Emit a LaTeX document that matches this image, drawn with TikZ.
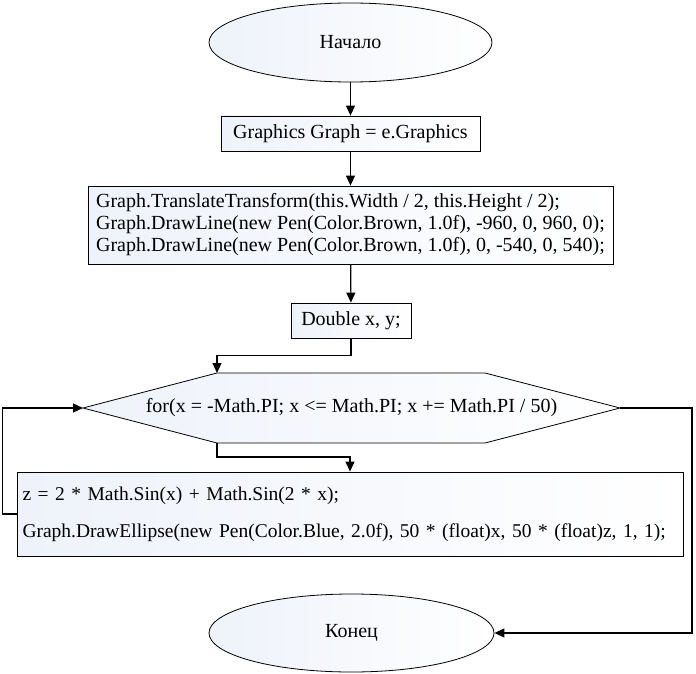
\documentclass[tikz,border=0pt]{standalone}
\usepackage{fontspec}
\setmainfont{Liberation Serif}
\usetikzlibrary{shapes.geometric,arrows.meta}
\definecolor{shadeL}{RGB}{238,242,250}
\begin{document}
\begin{tikzpicture}[x=1pt,y=-1pt,
  every node/.style={font=\fontsize{20}{22}\selectfont},
  boxshade/.style={draw, line width=0.8pt, left color=shadeL, right color=white},
  term/.style={boxshade, ellipse, minimum width=283pt, minimum height=79pt, inner sep=0pt},
  proc/.style={boxshade, rectangle, inner sep=0pt},
  arr/.style={line width=1.2pt, -{Triangle[length=10pt,width=9pt]}},
  ]
\useasboundingbox (0,0) rectangle (696,674);
\node[term] (start) at (350.5,42.5) {Начало};
\node[proc, minimum width=259pt, minimum height=35pt] (g) at (350.5,133.5) {Graphics Graph = e.Graphics};
\node[proc, minimum width=525pt, minimum height=78pt, align=left] (t) at (350.5,225)
  {Graph.TranslateTransform(this.Width / 2, this.Height / 2);\\
   Graph.DrawLine(new Pen(Color.Brown, 1.0f), -960, 0, 960, 0);\\
   Graph.DrawLine(new Pen(Color.Brown, 1.0f), 0, -540, 0, 540);};
\node[proc, minimum width=120pt, minimum height=35pt] (d) at (351,320.5) {Double x, y;};
% hexagon (loop)
\coordinate (hxT) at (217,373);
\coordinate (hxTR) at (485,373);
\coordinate (hxR) at (620,408);
\coordinate (hxBR) at (485,443);
\coordinate (hxB) at (217,443);
\coordinate (hxL) at (83,408);
\path[boxshade] (hxT) -- (hxTR) -- (hxR) -- (hxBR) -- (hxB) -- (hxL) -- cycle;
\node (loop) at (351.5,408) {for(x = -Math.PI; x <= Math.PI; x += Math.PI / 50)};
\node[proc, minimum width=666pt, minimum height=84pt, text width=655pt, inner xsep=5.5pt, align=left,
  font=\fontsize{19.5}{37}\selectfont] (body) at (350,514)
  {z = 2 * Math.Sin(x) + Math.Sin(2 * x);\\
   Graph.DrawEllipse(new Pen(Color.Blue, 2.0f), 50 * (float)x, 50 * (float)z, 1,\ 1);};
\node[term, minimum width=285pt, minimum height=78pt] (end) at (351.5,633) {Конец};
\coordinate (rc) at (692,408);
% connectors
\draw[arr] (start) -- (g);
\draw[arr] (g) -- (t);
\draw[arr] (t) -- (d);
\draw[arr] (d.south) -- ++(0,17) -| (hxT);
\draw[arr] (hxB) -- ++(0,14) -| (body.north);
\draw[arr] (body.west) -- ++(-14,0) |- (hxL);
\draw[arr] (hxR) -- (rc) |- (end.east);
\end{tikzpicture}
\end{document}
